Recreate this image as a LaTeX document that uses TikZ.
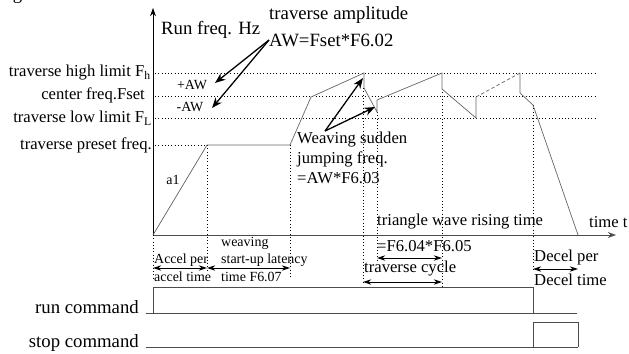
\documentclass[tikz,border=0pt]{standalone}
\usepackage{fontspec}
\setmainfont{Liberation Serif}
\usepackage{tikz}
\usetikzlibrary{arrows.meta}

\begin{document}
\begin{tikzpicture}[
    x=0.03cm, y=-0.03cm,
    every node/.style={inner sep=0pt},
    biglabel/.style={font=\fontsize{16}{18}\selectfont},
    midlabel/.style={font=\fontsize{14.2}{17}\selectfont},
    smalllabel/.style={font=\fontsize{11.9}{14}\selectfont},
    level/.style={dotted, thick},
    guide/.style={dotted, thick},
    wave/.style={black!60, line width=0.6pt},
    signal/.style={black!70, line width=0.6pt},
    axis/.style={-{Stealth[length=7pt, width=5pt]}, line width=0.6pt},
    span/.style={{Stealth[length=7pt, width=4.5pt]}-{Stealth[length=7pt, width=4.5pt]}, line width=0.7pt},
    pointer/.style={-{Stealth[length=9pt, width=7pt]}, line width=1.1pt}
]
    \useasboundingbox (0,0) rectangle (629,353);
    \clip (0,0) rectangle (629,353);

    \node[biglabel, anchor=base west] (fig) at (-3,-1) {Fig.5-7:};

    \draw[axis] (153,235) -- (153,8);
    \draw[axis, black!70] (153,235) -- (616,235);

    \draw[level] (155,73) -- (597,73);
    \draw[level] (155,96) -- (597,96);
    \draw[level] (155,118) -- (597,118);
    \draw[level] (155,145) -- (207,145);

    \draw[guide] (153,235) -- (153,280);
    \draw[guide] (207,145) -- (207,272);
    \draw[guide] (290,145) -- (290,277);
    \draw[guide] (363,88) -- (363,284);
    \draw[guide] (377,112) -- (377,260);
    \draw[guide] (442,89) -- (442,287);
    \draw[guide] (533,105) -- (533,270);

    \draw[wave] (153,235) -- (207,145) -- (290,145) -- (311,97) -- (364,73) -- (364,88)
        -- (377,112) -- (377,100) -- (442,73) -- (442,89) -- (476,118) -- (476,97);
    \draw[wave, densely dashed] (476,97) -- (520,73);
    \draw[wave] (520,73) -- (520,93) -- (533,105) -- (578,235);

    \node[midlabel, anchor=east] (high) at (151,73) {traverse high limit F\textsubscript{h}};
    \node[midlabel, anchor=east] (center) at (145,95) {center freq.Fset};
    \node[midlabel, anchor=east] (low) at (152,118) {traverse low limit F\textsubscript{L}};
    \node[midlabel, anchor=east] (preset) at (152,145) {traverse preset freq.};

    \node[biglabel, anchor=west] (runfreq) at (161,30) {Run freq. Hz};
    \node[biglabel, anchor=west] (amptitle) at (269,15) {traverse amplitude};
    \node[biglabel, anchor=west] (ampformula) at (269,40) {AW=Fset*F6.02};
    \node[smalllabel] (plusaw) at (192,85) {+AW};
    \node[smalllabel] (minusaw) at (190,107) {-AW};
    \coordinate (plustip) at (215,83);
    \coordinate (minustip) at (212,108);
    \draw[pointer] (ampformula.west) -- (plustip);
    \draw[pointer] (ampformula.west) -- (minustip);

    \node[midlabel, anchor=north west, align=left] (jump) at (297,132)
        {Weaving sudden\\jumping freq.\\=AW*F6.03};
    \coordinate (jumpsrc) at (325,131);
    \coordinate (hightip) at (363,78);
    \coordinate (lowtip) at (375,107);
    \draw[pointer] (jumpsrc) -- (hightip);
    \draw[pointer] (jumpsrc) -- (lowtip);

    \node[smalllabel] (aone) at (173,180) {a1};
    \node[midlabel, anchor=west] (timet) at (589,222) {time t};

    \coordinate (accelA) at (153,268);
    \coordinate (accelB) at (207,268);
    \coordinate (latB) at (290,268);
    \draw[span] (accelA) -- (accelB);
    \draw[span] (accelB) -- (latB);
    \node[smalllabel, anchor=west] (accelper) at (154,260) {Accel per};
    \node[smalllabel, anchor=west] (acceltime) at (154,277) {accel time};
    \node[smalllabel, anchor=west] (weaving) at (221,243) {weaving};
    \node[smalllabel, anchor=west] (startup) at (221,260) {start-up latency};
    \node[smalllabel, anchor=west] (latency) at (221,277) {time F6.07};

    \coordinate (riseA) at (377,258);
    \coordinate (riseB) at (442,258);
    \coordinate (cycleA) at (363,282);
    \coordinate (cycleB) at (442,282);
    \draw[span] (riseA) -- (riseB);
    \draw[span] (cycleA) -- (cycleB);
    \node[midlabel, anchor=west] (rising) at (377,222) {triangle wave rising time};
    \node[midlabel, anchor=west] (risingval) at (377,246) {=F6.04*F6.05};
    \node[midlabel, anchor=west] (cycle) at (364,269) {traverse cycle};

    \coordinate (decelA) at (533,269);
    \coordinate (decelB) at (578,269);
    \draw[span] (decelA) -- (decelB);
    \node[midlabel, anchor=west] (decelper) at (534,257) {Decel per};
    \node[midlabel, anchor=west] (deceltime) at (534,280) {Decel time};

    \node[biglabel, anchor=east] (runcmd) at (139,307) {run command};
    \node[biglabel, anchor=east] (stopcmd) at (139,343) {stop command};
    \draw[signal] (146,313) -- (577,313);
    \draw[signal] (153,313) -- (153,287) -- (533,287) -- (533,313);
    \draw[signal] (146,347) -- (578,347);
    \draw[signal] (533,347) -- (533,322) -- (578,322) -- (578,347);
\end{tikzpicture}
\end{document}
